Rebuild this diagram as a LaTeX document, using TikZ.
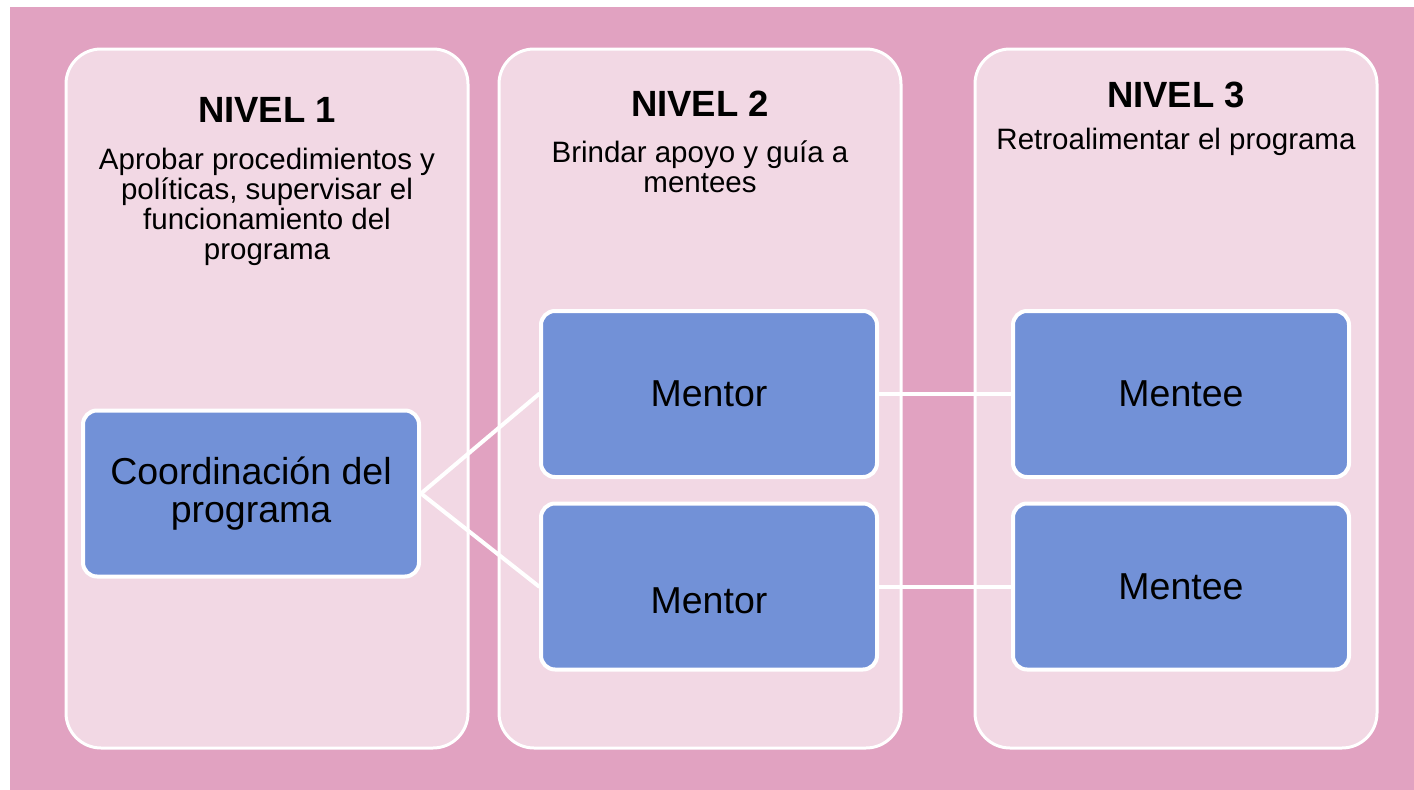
\documentclass[tikz,border=0pt]{standalone}
\usepackage{fontspec}
\setmainfont{Liberation Sans}
\usepackage{tikz}
\usetikzlibrary{positioning}
\definecolor{fondo}{RGB}{225,162,193}
\definecolor{rosapanel}{RGB}{242,216,228}
\definecolor{azulcaja}{RGB}{114,145,215}

\begin{document}
\begin{tikzpicture}[x=1pt,y=-1pt,line cap=round,line join=round,
  nivel/.style={draw=white,line width=3pt,fill=rosapanel,rounded corners=35pt,minimum width=402pt,minimum height=699pt},
  caja/.style={draw=white,line width=4pt,fill=azulcaja,rounded corners=14pt,minimum width=336pt,minimum height=166pt,align=center,font=\fontsize{37.5}{38}\selectfont},
  titulo/.style={anchor=base,inner sep=0pt,font=\fontsize{36.5}{38}\selectfont\bfseries},
  texto/.style={anchor=north,align=center,inner sep=0pt,font=\fontsize{29.5}{30}\selectfont},
  enlace/.style={draw=white,line width=4pt}]
\fill[white] (0,0) rectangle (1414,790);
\fill[fondo] (10,7) rectangle (1414,790);
\useasboundingbox (0,0) rectangle (1414,790);
\node[nivel] (n1) at (267,398.5) {};
\node[nivel] (n2) at (700,398.5) {};
\node[nivel] (n3) at (1176,398.5) {};
\node[titulo] (t1) at (267,122) {NIVEL 1};
\node[titulo] (t2) at (700,116) {NIVEL 2};
\node[titulo] (t3) at (1176,107) {NIVEL 3};
\node[texto] (d1) at (267,148) {Aprobar procedimientos y\\políticas, supervisar el\\funcionamiento del\\programa};
\node[texto] (d2) at (700,141) {Brindar apoyo y guía a\\mentees};
\node[texto] (d3) at (1176,128) {Retroalimentar el programa};
\node[caja] (coord) at (251,493.5) {Coordinación del\\programa};
\node[caja] (mentorA) at (709,394) {Mentor};
\node[caja,text height=54pt,text depth=0pt] (mentorB) at (709,586.5) {Mentor};
\node[caja] (menteeA) at (1181,394) {Mentee};
\node[caja] (menteeB) at (1181,586.5) {Mentee};
\draw[enlace] (coord.east) -- (mentorA.west);
\draw[enlace] (coord.east) -- (mentorB.west);
\draw[enlace] (mentorA.east) -- (menteeA.west);
\draw[enlace] (mentorB.east) -- (menteeB.west);
\end{tikzpicture}
\end{document}
